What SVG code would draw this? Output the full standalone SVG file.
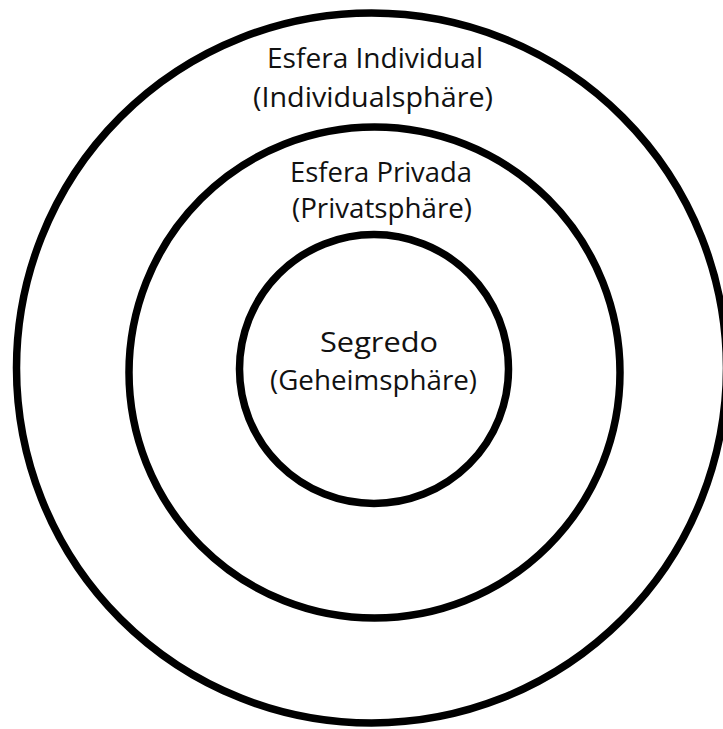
<svg xmlns="http://www.w3.org/2000/svg" width="723" height="729" viewBox="0 0 723 729">
  <style>
    .ring { fill: none; stroke: #000; stroke-width: 7.5; }
    .label { font-family: "Open Sans", "Noto Sans", sans-serif; font-size: 27px; fill: #111; text-anchor: middle; }
  </style>
  <rect width="723" height="729" fill="#fff"/>
  <g id="individual">
    <circle class="ring" cx="371.5" cy="368" r="355"/>
    <text class="label" x="375" y="68" textLength="216" lengthAdjust="spacingAndGlyphs">Esfera Individual</text>
    <text class="label" x="373" y="107" textLength="240" lengthAdjust="spacingAndGlyphs">(Individualsphäre)</text>
  </g>
  <g id="privada">
    <circle class="ring" cx="374.5" cy="372.5" r="245.5"/>
    <text class="label" x="381" y="182" textLength="182" lengthAdjust="spacingAndGlyphs">Esfera Privada</text>
    <text class="label" x="382" y="218" textLength="180" lengthAdjust="spacingAndGlyphs">(Privatsphäre)</text>
  </g>
  <g id="segredo">
    <circle class="ring" cx="374" cy="369" r="134.5"/>
    <text class="label" x="379" y="352" textLength="118" lengthAdjust="spacingAndGlyphs">Segredo</text>
    <text class="label" x="373.5" y="390" textLength="207" lengthAdjust="spacingAndGlyphs">(Geheimsphäre)</text>
  </g>
  <g id="connectors"/>
</svg>
